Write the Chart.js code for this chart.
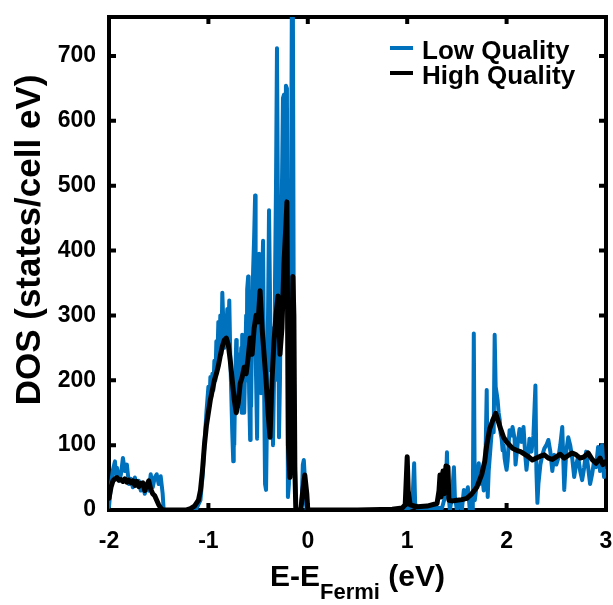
<!DOCTYPE html>
<html>
<head>
<meta charset="utf-8">
<script src="https://cdn.jsdelivr.net/npm/chart.js@4.4.1/dist/chart.umd.min.js"></script>
<style>
  html, body { margin: 0; padding: 0; background: #fff; }
  #wrap { width: 613px; height: 605px; }
</style>
</head>
<body>
<div id="wrap"><canvas id="dos" width="613" height="605"></canvas></div>
<script>
// DOS (states/cell eV vs E - E_Fermi in eV)
const lowEnergy = [
  -2.00, -1.98, -1.96, -1.94, -1.93, -1.92, -1.90, -1.88, -1.86, -1.84, -1.82, -1.80, -1.78, -1.76, -1.74,
  -1.72, -1.70, -1.68, -1.66, -1.64, -1.62, -1.60, -1.58, -1.56, -1.54, -1.52, -1.50, -1.48, -1.46, -1.45,
  -1.20, -1.12, -1.08, -1.06, -1.04, -1.02, -1.00, -0.99, -0.98, -0.97,
  -0.96, -0.95, -0.94, -0.93, -0.92, -0.91, -0.90, -0.89, -0.88, -0.87,
  -0.86, -0.85, -0.84, -0.83, -0.82, -0.81, -0.80, -0.79, -0.78, -0.77,
  -0.76, -0.75, -0.745, -0.74, -0.73, -0.72, -0.715, -0.71, -0.70, -0.69,
  -0.68, -0.67, -0.665, -0.66, -0.65, -0.64, -0.63, -0.62, -0.615, -0.61,
  -0.60, -0.595, -0.59, -0.58, -0.575, -0.57, -0.56, -0.55, -0.54, -0.53,
  -0.525, -0.52, -0.51, -0.50, -0.49, -0.48, -0.47, -0.46, -0.45, -0.44,
  -0.43, -0.42, -0.41, -0.40, -0.39, -0.38, -0.37, -0.36, -0.35, -0.34,
  -0.33, -0.32, -0.31, -0.30, -0.29, -0.28, -0.27, -0.26, -0.25, -0.24,
  -0.23, -0.22, -0.21, -0.20, -0.19, -0.18, -0.17, -0.16, -0.15, -0.14,
  -0.13, -0.12, -0.07, -0.06, -0.05, -0.04, -0.03, -0.02, -0.01, 0.90,
  1.00, 1.05, 1.07, 1.08, 1.10, 1.35, 1.38, 1.39, 1.40, 1.41, 1.43, 1.45, 1.47, 1.48, 1.50,
  1.53, 1.55, 1.57, 1.59, 1.61, 1.63, 1.66, 1.67, 1.68, 1.70, 1.72, 1.73, 1.75, 1.77, 1.79,
  1.80, 1.81, 1.82, 1.84, 1.86, 1.87, 1.88, 1.89, 1.90, 1.91, 1.92, 1.93, 1.94, 1.95, 1.96,
  1.97, 1.98, 1.99, 2.00, 2.01, 2.02, 2.03, 2.05, 2.06, 2.08, 2.09, 2.11, 2.13, 2.15, 2.17,
  2.19, 2.20, 2.22, 2.23, 2.25, 2.27, 2.29, 2.30, 2.31, 2.32, 2.34, 2.36, 2.38, 2.40, 2.42,
  2.44, 2.46, 2.48, 2.50, 2.52, 2.54, 2.56, 2.57, 2.58, 2.60, 2.62, 2.64, 2.66, 2.68, 2.70,
  2.72, 2.74, 2.76, 2.78, 2.80, 2.82, 2.84, 2.86, 2.88, 2.90, 2.92, 2.94, 2.96, 2.98, 3.00
]
const lowDos = [
  5, 40, 62, 75, 55, 65, 45, 55, 80, 60, 70, 40, 48, 35, 50,
  38, 45, 30, 40, 25, 35, 30, 55, 35, 50, 55, 40, 52, 25, 0,
  0, 2, 15, 50, 100, 150, 190, 160, 205, 175,
  210, 185, 230, 200, 260, 230, 290, 250, 300, 240,
  335, 290, 250, 300, 270, 310, 260, 323, 240, 180,
  120, 75, 140, 100, 200, 262, 170, 220, 160, 240,
  190, 250, 150, 270, 200, 150, 226, 300, 200, 340,
  360, 250, 180, 108, 220, 160, 300, 370, 420, 485,
  250, 200, 110, 300, 395, 250, 180, 350, 415, 200,
  40, 31, 150, 300, 462, 330, 215, 280, 100, 200,
  350, 500, 712, 450, 112, 200, 350, 500, 635, 640,
  400, 654, 650, 20, 40, 150, 400, 800, 780, 215,
  80, 0, 0, 20, 70, 77, 50, 10, 0, 0,
  2, 5, 72, 10, 3, 3, 20, 40, 89, 30, 0, 20, 66, 20, 0,
  12, 0, 31, 20, 35, 0, 0, 272, 15, 40, 72, 40, 60, 30, 100,
  185, 20, 60, 100, 140, 120, 270, 190, 180, 169, 150, 140, 118, 110, 92,
  100, 80, 70, 62, 75, 100, 123, 115, 128, 110, 70, 100, 125, 105, 128,
  80, 62, 90, 110, 90, 115, 192, 60, 11, 40, 70, 85, 95, 100, 108,
  90, 60, 85, 70, 80, 100, 128, 80, 31, 90, 112, 100, 80, 51, 70,
  82, 60, 46, 65, 90, 66, 40, 55, 75, 66, 97, 60, 100, 51, 60
]

const highEnergy = [
  -2.00, -1.98, -1.96, -1.94, -1.92, -1.90, -1.88, -1.86, -1.84, -1.82, -1.80, -1.78, -1.76, -1.74, -1.72,
  -1.70, -1.68, -1.66, -1.64, -1.62, -1.60, -1.58, -1.56, -1.54, -1.52, -1.50, -1.48, -1.46, -1.22, -1.18,
  -1.14, -1.10, -1.08, -1.06, -1.04, -1.02, -1.00, -0.98, -0.96, -0.94, -0.92, -0.90, -0.88, -0.86, -0.84,
  -0.82, -0.80, -0.78, -0.76, -0.74, -0.72, -0.70, -0.68, -0.66, -0.64, -0.62, -0.60, -0.58, -0.56, -0.54,
  -0.52, -0.50, -0.48, -0.46, -0.44, -0.42, -0.40, -0.38, -0.36, -0.34, -0.32, -0.30, -0.28, -0.26, -0.24,
  -0.22, -0.21, -0.195, -0.18, -0.165, -0.15, -0.14, -0.13, -0.12, -0.07, -0.05, -0.03, -0.01, 0.00, 0.50,
  0.85, 0.95, 0.98, 1.00, 1.01, 1.03, 1.10, 1.20, 1.30, 1.32, 1.33, 1.34, 1.36, 1.37, 1.39,
  1.41, 1.42, 1.45, 1.50, 1.55, 1.60, 1.65, 1.70, 1.75, 1.78, 1.80, 1.83, 1.86, 1.89, 1.91,
  1.94, 1.97, 2.00, 2.03, 2.06, 2.10, 2.14, 2.18, 2.22, 2.26, 2.30, 2.34, 2.38, 2.42, 2.46,
  2.50, 2.54, 2.58, 2.62, 2.66, 2.70, 2.74, 2.78, 2.82, 2.86, 2.90, 2.94, 2.97, 3.00
]
const highDos = [
  18, 35, 45, 48, 50, 46, 47, 44, 48, 43, 46, 42, 45, 38, 44,
  36, 41, 42, 30, 38, 45, 32, 25, 22, 15, 8, 3, 0, 0, 2,
  6, 15, 30, 60, 100, 130, 150, 170, 185, 200, 210, 222, 238, 252, 262,
  265, 255, 230, 200, 170, 150, 165, 195, 205, 220, 210, 235, 265, 240, 280,
  300, 290, 338, 280, 240, 200, 150, 112, 200, 260, 300, 330, 240, 280, 380,
  440, 475, 100, 50, 200, 360, 300, 60, 0, 0, 30, 54, 25, 0, 0,
  1, 3, 8, 82, 30, 8, 5, 6, 10, 30, 54, 20, 60, 25, 68,
  66, 15, 14, 15, 16, 18, 25, 35, 55, 75, 100, 125, 138, 149, 140,
  125, 112, 105, 100, 95, 92, 90, 86, 82, 77, 80, 83, 85, 80, 78,
  82, 86, 80, 84, 88, 85, 80, 82, 88, 78, 72, 80, 70, 75
]

const seriesNames = ["Low Quality", "High Quality"]
const seriesColors = ["#0072BD", "#000000"]
const xTicks = [-2, -1, 0, 1, 2, 3]
const yTicks = [0, 100, 200, 300, 400, 500, 600, 700]

const FONT = "'Liberation Sans', Arial, sans-serif"
const toPoints = (xs, ys) => xs.map((x, i) => ({ x, y: ys[i] }))

// box round the plot, ticks pointing inwards on all four sides
const frame = {
  id: "frame",
  beforeDatasetsDraw(chart) {
    const { ctx, chartArea: a, scales } = chart
    ctx.save()
    ctx.strokeStyle = "#000"
    ctx.lineWidth = 4
    ctx.beginPath()
    for (const v of xTicks) {
      const px = scales.x.getPixelForValue(v)
      ctx.moveTo(px, a.bottom); ctx.lineTo(px, a.bottom - 7)
      ctx.moveTo(px, a.top); ctx.lineTo(px, a.top + 7)
    }
    for (const v of yTicks) {
      const py = scales.y.getPixelForValue(v)
      ctx.moveTo(a.left, py); ctx.lineTo(a.left + 7, py)
      ctx.moveTo(a.right, py); ctx.lineTo(a.right - 7, py)
    }
    ctx.stroke()
    ctx.strokeRect(a.left, a.top, a.right - a.left, a.bottom - a.top)
    ctx.restore()
  },
  afterDraw(chart) {
    const { ctx, chartArea: a, scales } = chart
    ctx.save()
    ctx.fillStyle = "#000"

    // x tick labels
    ctx.font = "bold 23px " + FONT
    ctx.textAlign = "center"
    ctx.textBaseline = "middle"
    for (const v of xTicks) {
      ctx.fillText(String(v), scales.x.getPixelForValue(v), a.bottom + 32)
    }

    // x title with subscript
    const big = "bold 30px " + FONT, small = "bold 22px " + FONT
    ctx.font = big
    const w1 = ctx.measureText("E-E").width, w3 = ctx.measureText(" (eV)").width
    ctx.font = small
    const w2 = ctx.measureText("Fermi").width
    let x = (a.left + a.right) / 2 - (w1 + w2 + w3) / 2
    ctx.textBaseline = "alphabetic"
    ctx.textAlign = "left"
    ctx.font = big; ctx.fillText("E-E", x, 586); x += w1
    ctx.font = small; ctx.fillText("Fermi", x, 599); x += w2
    ctx.font = big; ctx.fillText(" (eV)", x, 586)

    // y title
    ctx.save()
    ctx.translate(40, 240)
    ctx.rotate(-Math.PI / 2)
    ctx.textAlign = "center"
    ctx.font = "bold 35px " + FONT
    ctx.fillText("DOS (states/cell eV)", 0, 0)
    ctx.restore()

    // legend, top right inside the axes
    ctx.font = "bold 26px " + FONT
    const rows = [48, 73]
    seriesNames.forEach((name, i) => {
      ctx.strokeStyle = seriesColors[i]
      ctx.lineWidth = 4
      ctx.beginPath()
      ctx.moveTo(390, rows[i]); ctx.lineTo(413, rows[i])
      ctx.stroke()
      ctx.fillText(name, 422, rows[i] + 11)
    })
    ctx.restore()
  }
}

new Chart(document.getElementById("dos"), {
  type: "line",
  data: {
    datasets: [
      {
        label: seriesNames[0],
        data: toPoints(lowEnergy, lowDos),
        borderColor: seriesColors[0],
        borderWidth: 4,
        order: 2,
      },
      {
        label: seriesNames[1],
        data: toPoints(highEnergy, highDos),
        borderColor: seriesColors[1],
        borderWidth: 5,
        order: 1,
      },
    ],
  },
  options: {
    responsive: false,
    animation: false,
    devicePixelRatio: 1,
    layout: { padding: { top: 17, right: 7, left: 0, bottom: 0 } },
    elements: {
      point: { radius: 0 },
      line: { tension: 0, borderJoinStyle: "round", borderCapStyle: "round", fill: false },
    },
    plugins: { legend: { display: false }, tooltip: { enabled: false } },
    scales: {
      x: {
        type: "linear",
        min: -2,
        max: 3,
        afterBuildTicks: (s) => { s.ticks = xTicks.map(v => ({ value: v })) },
        afterFit: (s) => { s.height = 95; s.paddingLeft = 0; s.paddingRight = 0 },
        grid: { display: false, drawTicks: false },
        border: { display: false },
        ticks: { display: false },
      },
      y: {
        min: 0,
        max: 760,
        afterBuildTicks: (s) => { s.ticks = yTicks.map(v => ({ value: v })) },
        afterFit: (s) => { s.width = 109; s.paddingTop = 0; s.paddingBottom = 0 },
        grid: { display: false, drawTicks: false },
        border: { display: false },
        ticks: { color: "#000", font: { family: FONT, size: 23, weight: "bold" }, padding: 13 },
      },
    },
  },
  plugins: [frame],
})
</script>
</body>
</html>
